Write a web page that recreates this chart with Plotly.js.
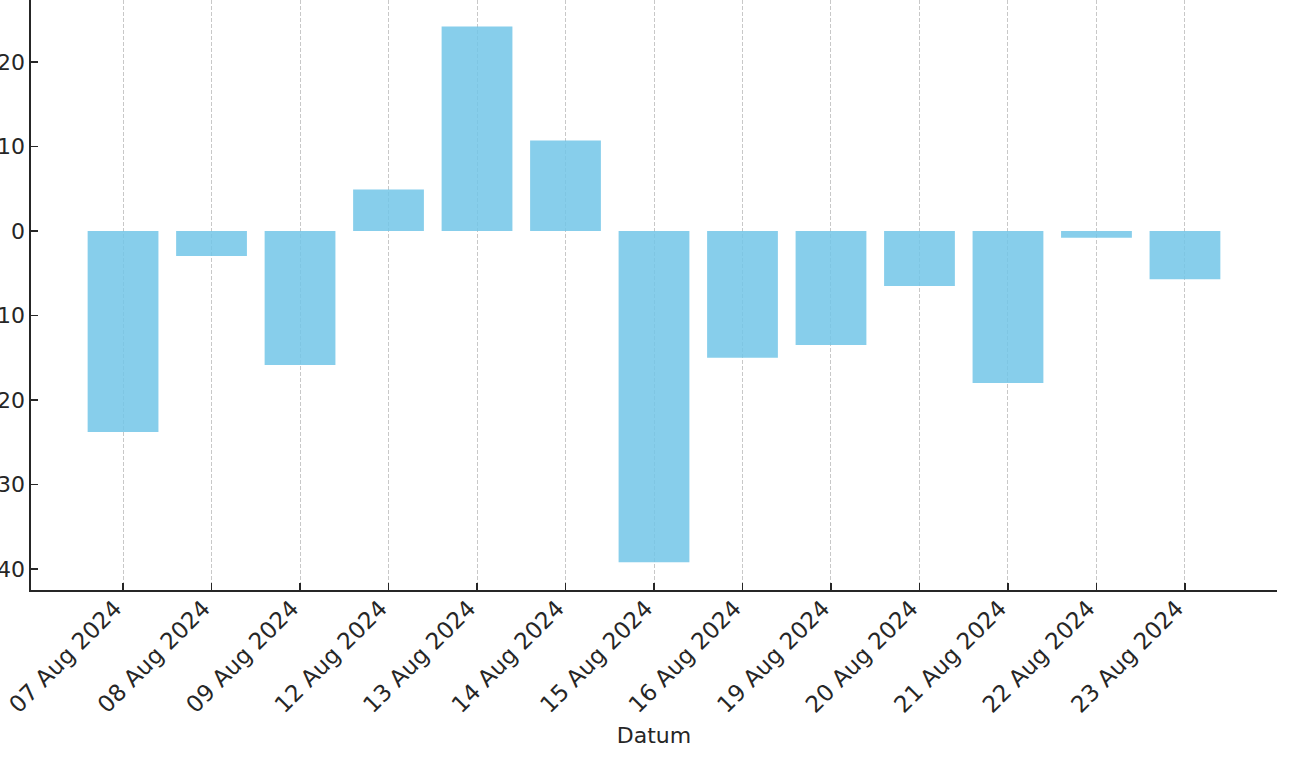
<!DOCTYPE html>
<html>
<head>
<meta charset="utf-8">
<script src="https://cdn.plot.ly/plotly-3.0.1.min.js"></script>
<style>
  html, body { margin: 0; padding: 0; background: #ffffff; }
  #chart { width: 1290px; height: 780px; }
</style>
</head>
<body>
<div id="chart"></div>
<script>
const dates = ["07 Aug 2024", "08 Aug 2024", "09 Aug 2024", "12 Aug 2024", "13 Aug 2024",
  "14 Aug 2024", "15 Aug 2024", "16 Aug 2024", "19 Aug 2024", "20 Aug 2024",
  "21 Aug 2024", "22 Aug 2024", "23 Aug 2024"];
const changes = [-23.8, -2.95, -15.85, 4.9, 24.2, 10.7, -39.2, -15.0, -13.5, -6.5, -18.0, -0.8, -5.7];
const xTitle = "Datum";
const yTicks = [-40, -30, -20, -10, 0, 10, 20];

const textColor = "#262626";
const fontFamily = "DejaVu Sans, Verdana, sans-serif";

const trace = {
  type: "bar",
  x: dates,
  y: changes,
  width: 0.8,
  marker: { color: "rgba(114,197,232,0.85)", line: { width: 0 } },
  hoverinfo: "x+y"
};

const layout = {
  width: 1290,
  height: 780,
  paper_bgcolor: "#ffffff",
  plot_bgcolor: "#ffffff",
  margin: { l: 31, r: 13, t: 0, b: 190, pad: 0 },
  showlegend: false,
  font: { family: fontFamily, color: textColor, size: 22 },
  xaxis: {
    type: "category",
    range: [-1.04, 13.04],
    showline: true,
    linecolor: textColor,
    linewidth: 1.6,
    ticks: "inside",
    ticklen: 7,
    tickwidth: 1.2,
    tickcolor: textColor,
    tickangle: -45,
    ticksuffix: "\u2002",
    ticklabelstandoff: -14,
    tickfont: { family: fontFamily, size: 23, color: textColor },
    showgrid: true,
    gridcolor: "#c8c8c8",
    gridwidth: 1,
    griddash: "4px,2px",
    zeroline: false,
    automargin: false,
    title: { text: xTitle, font: { family: fontFamily, size: 22, color: textColor }, standoff: 11 }
  },
  yaxis: {
    range: [-42.49, 27.34],
    tickvals: yTicks,
    showline: true,
    linecolor: textColor,
    linewidth: 1.6,
    ticks: "inside",
    ticklen: 7,
    tickwidth: 1.2,
    tickcolor: textColor,
    tickfont: { family: fontFamily, size: 22, color: textColor },
    showgrid: false,
    zeroline: false,
    automargin: false
  },
  bargap: 0.2
};

Plotly.newPlot("chart", [trace], layout, { displayModeBar: false, staticPlot: true });
</script>
</body>
</html>
